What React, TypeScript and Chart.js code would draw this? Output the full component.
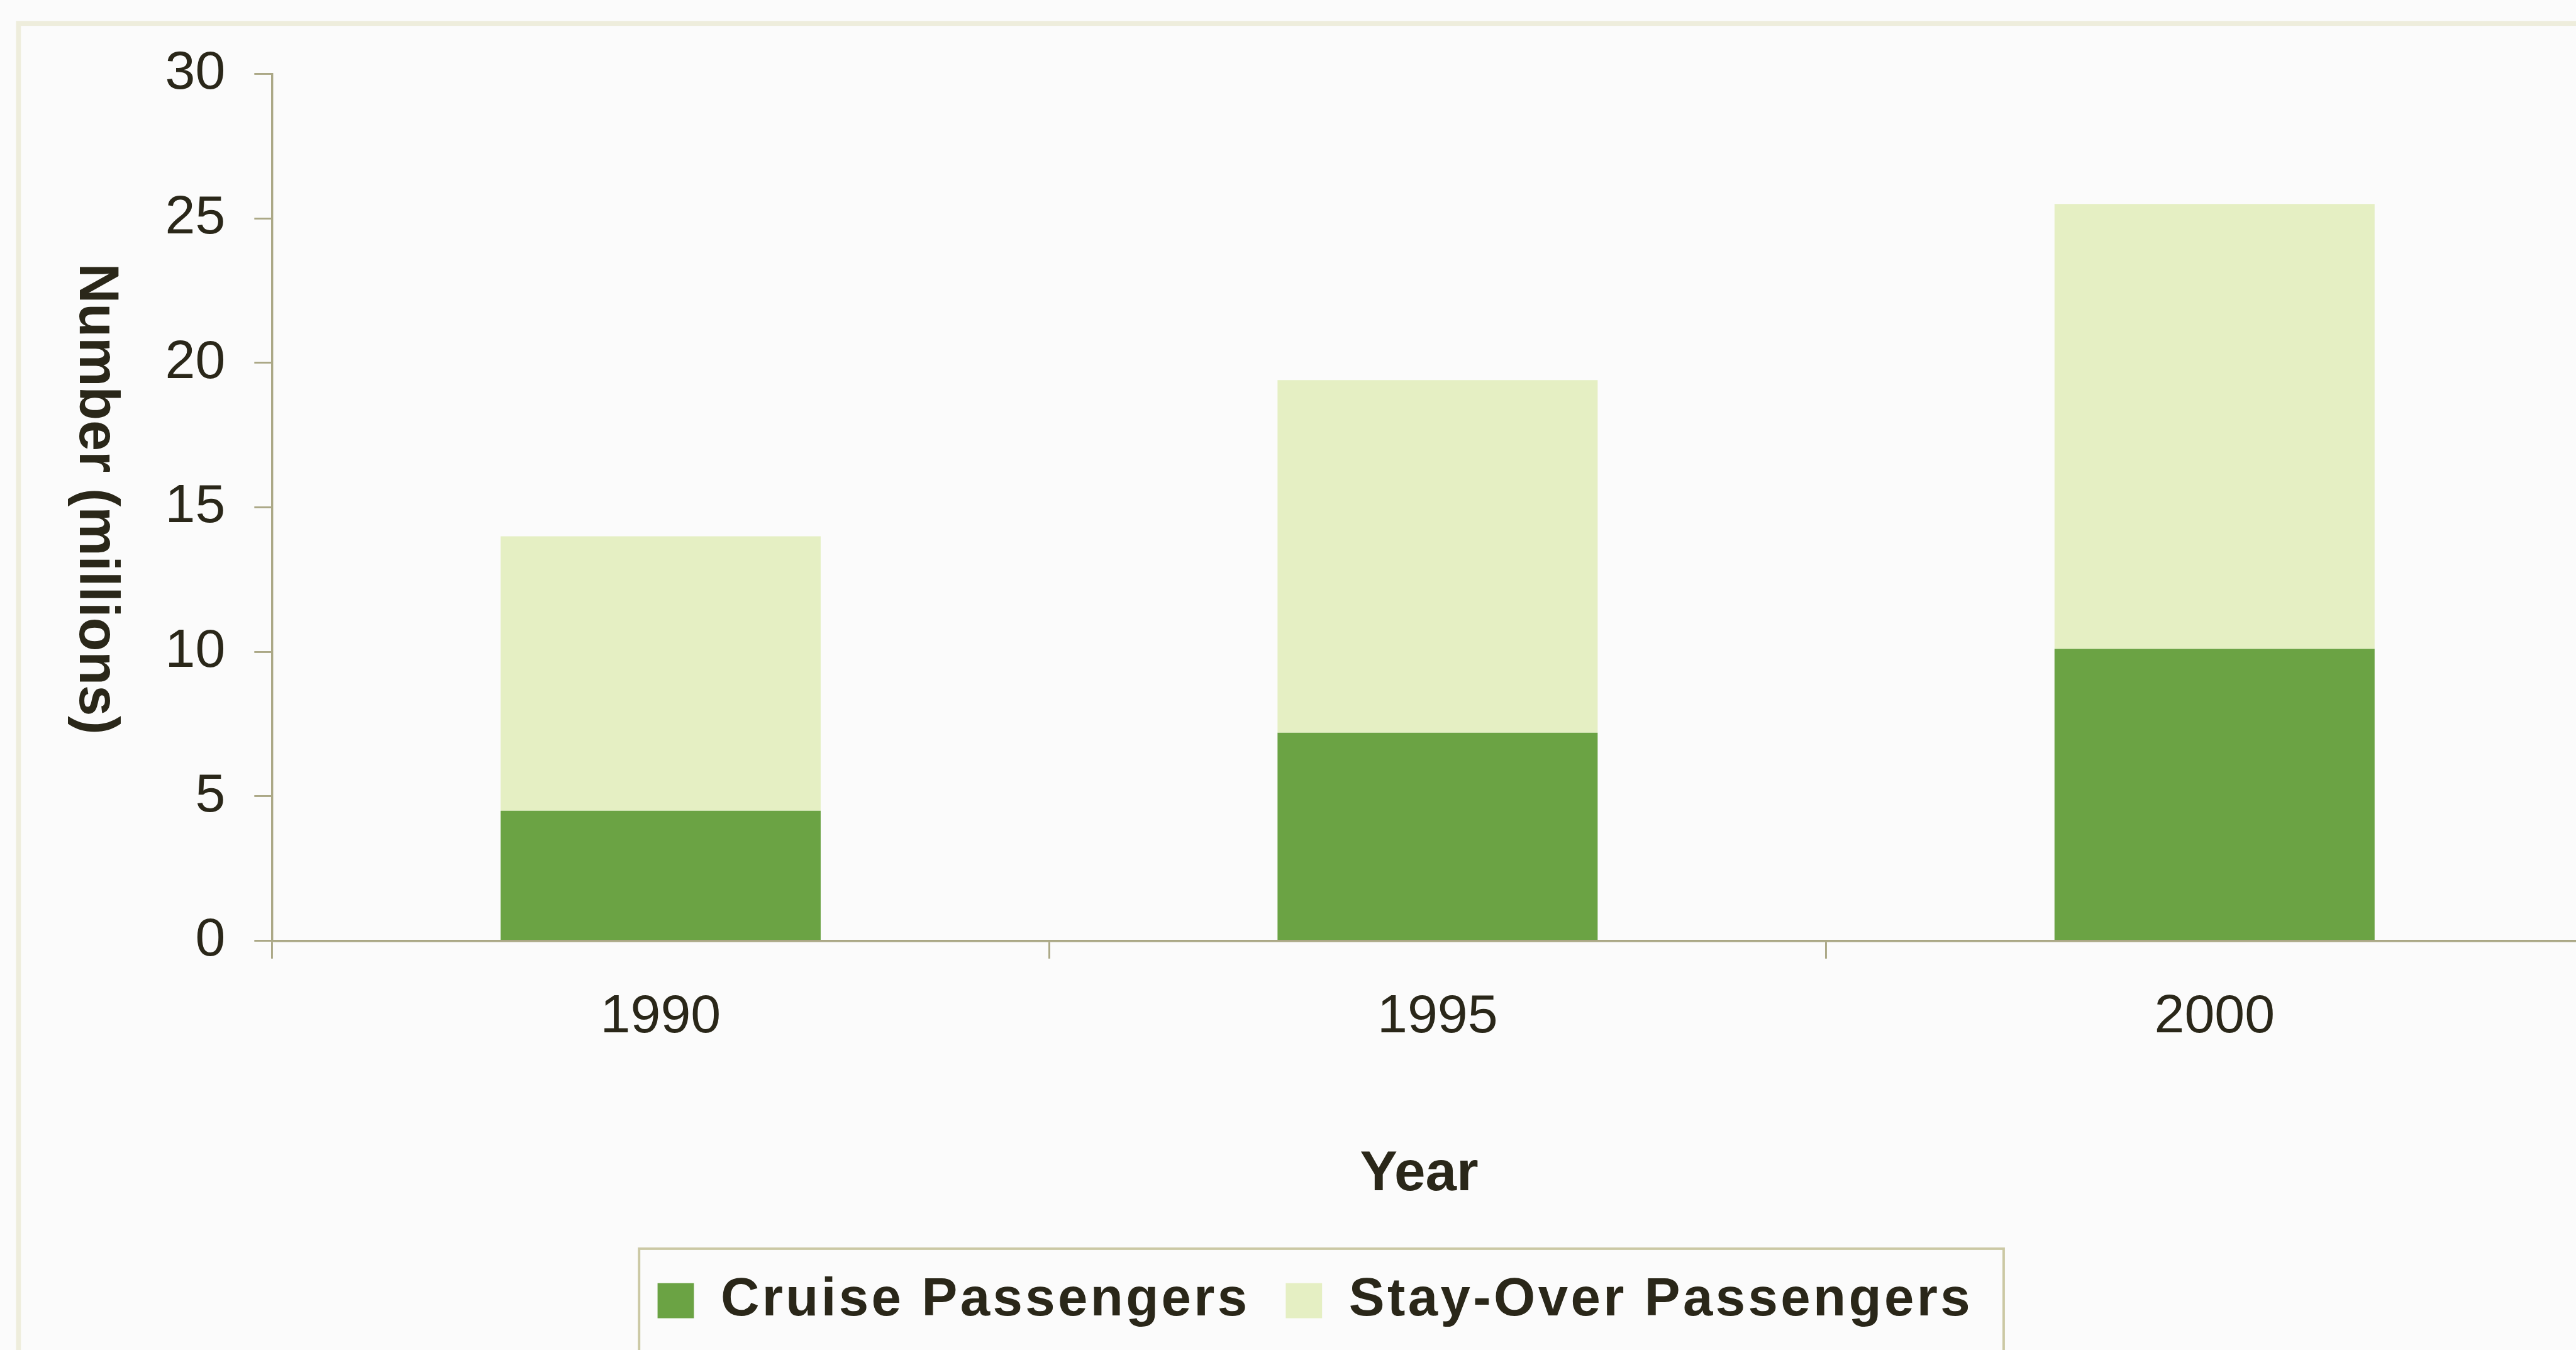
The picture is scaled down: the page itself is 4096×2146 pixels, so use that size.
import React, { useEffect, useRef } from 'react';
import { Chart, registerables } from 'chart.js';

Chart.register(...registerables);

// ---- data ----
const categories = ['1990', '1995', '2000'];
const cruisePassengers = [4.5, 7.2, 10.1];
const stayOverPassengers = [9.5, 12.2, 15.4];
const seriesLabels = ['Cruise Passengers', 'Stay-Over Passengers'];
const yMin = 0;
const yMax = 30;
const yStep = 5;
const yTitle = 'Number (millions)';
const xTitle = 'Year';

// ---- styling ----
const S = 0.979;
const FONT = '"Liberation Sans", Arial, Helvetica, sans-serif';
const TEXT = '#2a2719';
const AXIS = '#aba886';
const CRUISE = '#6ba344';
const STAY = '#e5efc3';
const BG = '#fbfbfb';
const REF_W = 4228;
const REF_H = 2226;
const LEGEND_PAD = 58;
const LEGEND_LS = `${4.5 * S}px`;

function patchLegend(chart: any) {
  const lg = chart.legend;
  if (!lg || lg.__lsPatched) return;
  lg.__lsPatched = true;
  const wrap = (name: string) => {
    const orig = lg[name];
    lg[name] = function (...args: any[]) {
      const c: any = this.ctx;
      const prev = c.letterSpacing;
      c.letterSpacing = LEGEND_LS;
      try {
        return orig.apply(this, args);
      } finally {
        c.letterSpacing = prev || '0px';
      }
    };
  };
  wrap('fit');
  wrap('draw');
}

const decorPlugin = {
  id: 'decor',
  beforeUpdate(chart: any) {
    patchLegend(chart);
  },
  afterLayout(chart: any) {
    const lg = chart.legend;
    if (lg && lg.lineWidths) {
      const p = LEGEND_PAD * S;
      const lw = lg.lineWidths[0];
      const cur = (lg.left + p + lg.right - lw) / 2;
      const dx = 1068 * S - cur;
      lg.left += dx;
      lg.right += dx;
    }
  },
  afterDraw(chart: any) {
    const ctx = chart.ctx;
    ctx.save();
    // outer faint frame
    ctx.strokeStyle = '#eeeddc';
    ctx.lineWidth = 8 * S;
    ctx.strokeRect(30 * S, 38 * S, REF_W * S + 100, REF_H * S + 100);

    // y title (rotated clockwise, reading top to bottom)
    ctx.fillStyle = TEXT;
    ctx.font = `bold ${90 * S}px ${FONT}`;
    ctx.textAlign = 'center';
    ctx.textBaseline = 'middle';
    ctx.translate(155 * S, 810 * S);
    ctx.rotate(Math.PI / 2);
    ctx.fillText(yTitle, 0, 0);
    ctx.setTransform(1, 0, 0, 1, 0, 0);

    // x title
    ctx.font = `bold ${91 * S}px ${FONT}`;
    ctx.fillText(xTitle, 2305 * S, 1907 * S);

    // legend border
    const hb = chart.legend && chart.legend.legendHitBoxes;
    if (hb && hb.length) {
      const first = hb[0];
      const last = hb[hb.length - 1];
      const left = first.left - 30 * S;
      const top = first.top - 41 * S;
      const right = last.left + last.width + 50 * S;
      ctx.strokeStyle = '#cbc8a4';
      ctx.lineWidth = 4 * S;
      ctx.strokeRect(left, top, right - left, REF_H * S + 50 - top);
    }
    ctx.restore();
  },
};

export default function App() {
  const ref = useRef<HTMLCanvasElement | null>(null);

  useEffect(() => {
    document.body.style.margin = '0';
    const canvas = ref.current;
    if (!canvas) return;
    const chart = new Chart(canvas, {
      type: 'bar',
      data: {
        labels: categories,
        datasets: [
          {
            label: seriesLabels[0],
            data: cruisePassengers,
            backgroundColor: CRUISE,
            borderWidth: 0,
            barPercentage: 0.412,
            categoryPercentage: 1,
          },
          {
            label: seriesLabels[1],
            data: stayOverPassengers,
            backgroundColor: STAY,
            borderWidth: 0,
            barPercentage: 0.412,
            categoryPercentage: 1,
          },
        ],
      },
      options: {
        responsive: false,
        animation: false,
        devicePixelRatio: 1,
        layout: { padding: { top: 120 * S, left: 0, right: 0, bottom: 60 * S } },
        plugins: {
          tooltip: { enabled: false },
          title: { display: false },
          legend: {
            display: true,
            position: 'bottom',
            labels: {
              boxWidth: 59 * S,
              boxHeight: 57 * S,
              padding: LEGEND_PAD * S,
              color: TEXT,
              font: { family: FONT, size: 87 * S, weight: 'bold' },
            },
          },
        },
        scales: {
          x: {
            stacked: true,
            offset: true,
            grid: {
              display: true,
              offset: true,
              drawOnChartArea: false,
              drawTicks: true,
              tickLength: 29 * S,
              color: AXIS,
              lineWidth: 3 * S,
            },
            border: { display: true, color: AXIS, width: 3.5 * S },
            ticks: {
              color: TEXT,
              padding: 43 * S,
              font: { family: FONT, size: 88 * S },
              maxRotation: 0,
              autoSkip: false,
            },
            afterFit: (scale: any) => {
              scale.height = 483 * S;
            },
          },
          y: {
            stacked: true,
            min: yMin,
            max: yMax,
            grid: {
              display: true,
              drawOnChartArea: false,
              drawTicks: true,
              tickLength: 29 * S,
              color: AXIS,
              lineWidth: 3 * S,
            },
            border: { display: true, color: AXIS, width: 3.5 * S },
            ticks: {
              stepSize: yStep,
              color: TEXT,
              padding: 47 * S,
              font: { family: FONT, size: 88 * S },
            },
            afterFit: (scale: any) => {
              scale.width = 442 * S;
            },
          },
        },
      },
      plugins: [decorPlugin],
    });
    return () => chart.destroy();
  }, []);

  return (
    <div
      style={{
        width: 4096,
        height: 2146,
        overflow: 'hidden',
        background: BG,
        position: 'relative',
      }}
    >
      <canvas
        ref={ref}
        width={Math.round(REF_W * S)}
        height={Math.round(REF_H * S)}
        style={{ display: 'block', width: Math.round(REF_W * S), height: Math.round(REF_H * S) }}
      />
    </div>
  );
}
